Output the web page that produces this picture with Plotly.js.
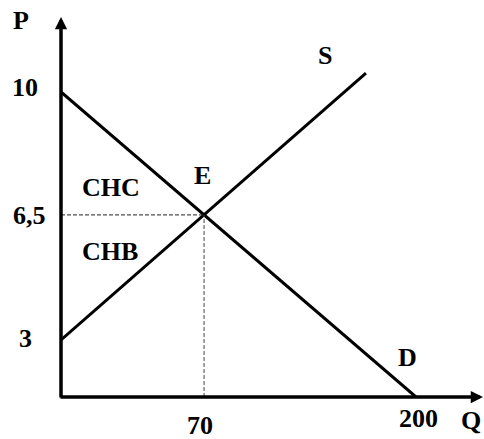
<!DOCTYPE html>
<html>
<head>
<meta charset="utf-8">
<script src="https://cdn.plot.ly/plotly-3.0.1.min.js"></script>
<style>html,body{margin:0;padding:0;background:#fff;}#chart{width:484px;height:439px;}</style>
</head>
<body>
<div id="chart"></div>
<script>
// Schematic chart: positions in chart units (Q axis unit: 200 at "200"; P axis unit: 10 at "10")
const demandQ = [0, 200];
const demandP = [10, 0];
const supplyQ = [0, 171.8];
const supplyP = [1.87, 10.62];
const eqQ = [80.6];
const eqP = [5.97];
const pTickLabels = ['10', '6,5', '3'];
const qTickLabels = ['70', '200'];
const curveLabels = ['S', 'D', 'E'];
const areaLabels = ['CHC', 'CHB'];
const axisLabels = ['P', 'Q'];

const W = 484, H = 439;
const M = {l: 61, r: 0, t: 0, b: 42};
const PW = W - M.l - M.r, PH = H - M.t - M.b;
const px = x => (x - M.l) / PW;
const py = y => (H - M.b - y) / PH;

const fontFam = '"Liberation Serif", "Times New Roman", Times, serif';
const FS = 26;

const traces = [
  {x: demandQ, y: demandP, mode: 'lines', line: {color: '#000', width: 3}, hoverinfo: 'skip'},
  {x: supplyQ, y: supplyP, mode: 'lines', line: {color: '#000', width: 3}, hoverinfo: 'skip'},
  {x: [0, eqQ[0]], y: [eqP[0], eqP[0]], mode: 'lines', line: {color: '#222', width: 1, dash: '4px,2px'}, hoverinfo: 'skip'},
  {x: [eqQ[0], eqQ[0]], y: [0, eqP[0]], mode: 'lines', line: {color: '#444', width: 1, dash: '4px,2px'}, hoverinfo: 'skip'}
];

function lab(text, x, y) {
  return {text: '<b>' + text + '</b>', xref: 'paper', yref: 'paper', x: px(x), y: py(y),
    xanchor: 'center', yanchor: 'middle', showarrow: false,
    font: {family: fontFam, size: FS, color: '#000'}};
}

const annotations = [
  // axes with arrows
  {text: '', xref: 'paper', yref: 'paper', x: 0, y: py(17), ax: 0, ay: 382, axref: 'pixel', ayref: 'pixel',
   showarrow: true, arrowhead: 2, arrowsize: 0.7, arrowwidth: 3.5, arrowcolor: '#000', standoff: 0, startstandoff: 0},
  {text: '', xref: 'paper', yref: 'paper', x: 1, y: 0, ax: -425, ay: 0, axref: 'pixel', ayref: 'pixel',
   showarrow: true, arrowhead: 2, arrowsize: 0.7, arrowwidth: 3.5, arrowcolor: '#000', standoff: 0, startstandoff: 0},
  lab(axisLabels[0], 21, 20),
  lab(axisLabels[1], 471, 420),
  lab(pTickLabels[0], 25, 88),
  lab(pTickLabels[1], 29, 216),
  lab(pTickLabels[2], 25, 338),
  lab(qTickLabels[0], 200, 425),
  lab(qTickLabels[1], 418, 418),
  lab(curveLabels[0], 325, 56),
  lab(curveLabels[1], 407, 357),
  lab(curveLabels[2], 202, 175.5),
  lab(areaLabels[0], 111, 187.5),
  lab(areaLabels[1], 110, 251)
];

const layout = {
  width: W, height: H,
  margin: {l: M.l, r: M.r, t: M.t, b: M.b, pad: 0},
  paper_bgcolor: '#fff', plot_bgcolor: '#fff',
  showlegend: false,
  xaxis: {range: [0, 200 * PW / 355], visible: false, fixedrange: true},
  yaxis: {range: [0, 10 * PH / 305], visible: false, fixedrange: true},
  annotations: annotations
};

Plotly.newPlot('chart', traces, layout, {displayModeBar: false, staticPlot: true});
</script>
</body>
</html>
